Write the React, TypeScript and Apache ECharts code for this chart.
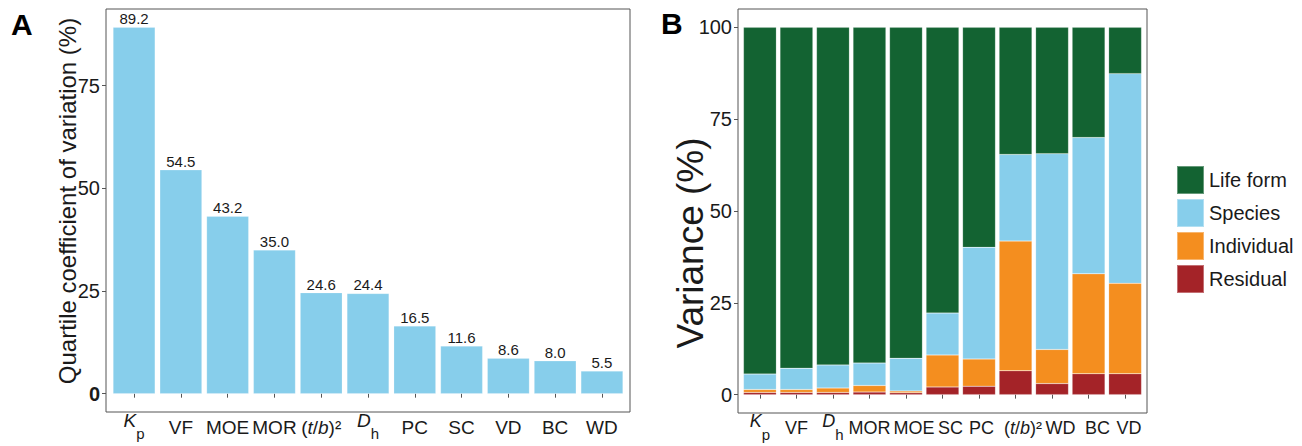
import React, { useEffect, useRef } from "react";
import * as echarts from "echarts";

// Panel A: quartile coefficient of variation (%)
const cvCategories = ["Kp", "VF", "MOE", "MOR", "tb", "Dh", "PC", "SC", "VD", "BC", "WD"];
const cvValues = [89.2, 54.5, 43.2, 35.0, 24.6, 24.4, 16.5, 11.6, 8.6, 8.0, 5.5];
const cvTicks = [0, 25, 50, 75];

// Panel B: variance partitioning (%)
const varCategories = ["Kp", "VF", "Dh", "MOR", "MOE", "SC", "PC", "tb", "WD", "BC", "VD"];
const residual = [0.6, 0.6, 0.6, 0.7, 0.5, 2.1, 2.3, 6.5, 3.0, 5.7, 5.7];
const individual = [0.8, 0.8, 1.2, 1.8, 0.5, 8.7, 7.4, 35.3, 9.3, 27.2, 24.6];
const species = [4.2, 5.8, 6.3, 6.1, 8.9, 11.4, 30.4, 23.6, 53.3, 37.1, 57.1];
const lifeForm = [94.4, 92.8, 91.9, 91.4, 90.1, 77.8, 59.9, 34.6, 34.4, 30.0, 12.6];
const varTicks = [0, 25, 50, 75, 100];
const legendNames = ["Life form", "Species", "Individual", "Residual"];

const COLORS = {
  sky: "#87CEEB",
  green: "#136332",
  orange: "#F48E1F",
  red: "#A42328",
};
const FONT = "Liberation Sans, Arial, sans-serif";
const TEXT = "#1a1a1a";

// label nudges (style only) for panel B tick labels, px of leading spacer
const shiftB: Record<string, number> = { MOE: 16, SC: 16, PC: 5, tb: 15, WD: 17, BC: 18, VD: 8 };
const shiftA: Record<string, number> = {};

function makeRich(fs: number, subFs: number, normalPad: number, subPad: number, shifts: Record<string, number>) {
  const base = { fontSize: fs, color: TEXT, fontFamily: FONT, verticalAlign: "top" };
  const r: any = {
    n: { ...base, padding: [normalPad, 0, 0, 0] },
    ni: { ...base, fontStyle: "italic", padding: [normalPad, 0, 0, 0] },
    it: { ...base, fontStyle: "italic", padding: [1, 0, 0, 0] },
    sub: { ...base, fontSize: subFs, padding: [subPad, 0, 0, 0] },
  };
  Object.values(shifts).forEach((w) => {
    r["w" + w] = { ...base, width: w };
  });
  return r;
}

const makeFmt = (shifts: Record<string, number>) => (v: string) => {
  const pre = shifts[v] ? `{w${shifts[v]}| }` : "";
  if (v === "Kp") return pre + "{it|K}{sub|p}";
  if (v === "Dh") return pre + "{it|D}{sub|h}";
  if (v === "tb") return pre + "{n|(}{ni|t}{n|/}{ni|b}{n|)²}";
  return pre + `{n|${v}}`;
};

// panel boxes (ggplot-style expansion of 0.6 category units each side)
const A = { left: 106, top: 9, right: 630, bottom: 412 };
const B = { left: 738, top: 9, right: 1147, bottom: 413 };
const padA = ((A.right - A.left) / 11.2) * 0.1;
const padB = ((B.right - B.left) / 11.2) * 0.1;

export default function App() {
  const ref = useRef<HTMLDivElement>(null);
  useEffect(() => {
    if (!ref.current) return;
    const chart = echarts.init(ref.current, null, { renderer: "svg" });
    const yLabelBase = { fontSize: 20, color: TEXT, fontFamily: FONT };
    const tick = { show: true, length: 4, lineStyle: { color: "#555", width: 1 } };
    const stackSeries = (name: string, data: number[], color: string) => ({
      name,
      type: "bar",
      stack: "v",
      xAxisIndex: 1,
      yAxisIndex: 1,
      data,
      barCategoryGap: "10%",
      itemStyle: { color, borderColor: "rgba(255,255,255,0.35)", borderWidth: 0.5 },
    });
    chart.setOption({
      animation: false,
      textStyle: { fontFamily: FONT },
      grid: [
        {
          left: A.left + padA,
          top: A.top,
          width: A.right - A.left - 2 * padA,
          height: A.bottom - A.top,
        },
        {
          left: B.left + padB,
          top: B.top,
          width: B.right - B.left - 2 * padB,
          height: B.bottom - B.top,
        },
      ],
      xAxis: [
        {
          type: "category",
          gridIndex: 0,
          data: cvCategories,
          axisLine: { show: false },
          axisTick: { ...tick, alignWithLabel: true },
          axisLabel: {
            fontSize: 19,
            color: TEXT,
            fontFamily: FONT,
            margin: -2,
            interval: 0,
            formatter: makeFmt(shiftA),
            rich: makeRich(19, 15, 8, 16, shiftA),
          },
        },
        {
          type: "category",
          gridIndex: 1,
          data: varCategories,
          axisLine: { show: false },
          axisTick: { ...tick, alignWithLabel: true },
          axisLabel: {
            fontSize: 18,
            color: TEXT,
            fontFamily: FONT,
            margin: -2,
            interval: 0,
            formatter: makeFmt(shiftB),
            rich: makeRich(18, 15, 8, 16, shiftB),
          },
        },
      ],
      yAxis: [
        {
          type: "value",
          gridIndex: 0,
          min: -4.46,
          max: 93.66,
          offset: padA,
          splitLine: { show: false },
          axisLine: { show: false },
          axisTick: { ...tick, customValues: cvTicks },
          axisLabel: {
            ...yLabelBase,
            margin: 6,
            customValues: cvTicks,
            formatter: (v: number) => (v === 0 ? "{b|0}" : String(v)),
            rich: { b: { fontSize: 20, fontWeight: "bold", color: TEXT, fontFamily: FONT } },
          },
        },
        {
          type: "value",
          gridIndex: 1,
          min: -5,
          max: 105,
          offset: padB,
          splitLine: { show: false },
          axisLine: { show: false },
          axisTick: { ...tick, customValues: varTicks },
          axisLabel: { ...yLabelBase, margin: 6, customValues: varTicks },
        },
      ],
      legend: {
        data: legendNames,
        orient: "vertical",
        left: 1176,
        top: 165,
        padding: 0,
        itemWidth: 27,
        itemHeight: 28,
        itemGap: 3,
        icon: "rect",
        textStyle: { fontSize: 20, color: TEXT, fontFamily: FONT },
      },
      series: [
        {
          name: "QCV",
          type: "bar",
          xAxisIndex: 0,
          yAxisIndex: 0,
          data: cvValues,
          barCategoryGap: "10%",
          itemStyle: { color: COLORS.sky, borderColor: "rgba(255,255,255,0.4)", borderWidth: 0.5 },
          label: {
            show: true,
            position: "top",
            distance: 1,
            fontSize: 15,
            color: TEXT,
            fontFamily: FONT,
            formatter: (p: any) => Number(p.value).toFixed(1),
          },
        },
        stackSeries("Residual", residual, COLORS.red),
        stackSeries("Individual", individual, COLORS.orange),
        stackSeries("Species", species, COLORS.sky),
        stackSeries("Life form", lifeForm, COLORS.green),
      ],
      graphic: [
        {
          type: "rect",
          shape: { x: A.left, y: A.top, width: A.right - A.left, height: A.bottom - A.top },
          style: { fill: "none", stroke: "#555", lineWidth: 1 },
          z: 100,
        },
        {
          type: "rect",
          shape: { x: B.left, y: B.top, width: B.right - B.left, height: B.bottom - B.top },
          style: { fill: "none", stroke: "#555", lineWidth: 1 },
          z: 100,
        },
        {
          type: "text",
          x: 67,
          y: 201,
          rotation: Math.PI / 2,
          style: {
            text: "Quartile coefficient of variation (%)",
            fontSize: 24,
            fill: TEXT,
            fontFamily: FONT,
            textAlign: "center",
            textVerticalAlign: "middle",
          },
        },
        {
          type: "text",
          x: 690,
          y: 243,
          rotation: Math.PI / 2,
          style: {
            text: "Variance (%)",
            fontSize: 37,
            fill: TEXT,
            fontFamily: FONT,
            textAlign: "center",
            textVerticalAlign: "middle",
          },
        },
        {
          type: "text",
          left: 11,
          top: 9,
          style: { text: "A", fontSize: 30, fontWeight: "bold", fill: "#000", fontFamily: FONT },
        },
        {
          type: "text",
          left: 661,
          top: 8,
          style: { text: "B", fontSize: 30, fontWeight: "bold", fill: "#000", fontFamily: FONT },
        },
      ],
    });
    return () => chart.dispose();
  }, []);
  return (
    <div
      ref={ref}
      style={{ position: "fixed", left: 0, top: 0, width: 1302, height: 446, background: "#fff" }}
    />
  );
}
